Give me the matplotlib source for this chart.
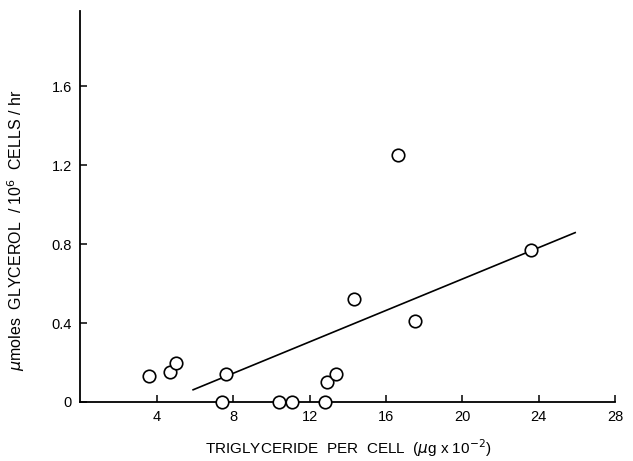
import numpy as np
import matplotlib.pyplot as plt

# triglyceride content (ug x 10^-2) vs glycerol release (umol / 10^6 cells / hr)
trig = [3.6, 4.7, 5.0, 7.6, 7.4, 10.4, 11.1, 12.8, 12.9, 13.4, 14.3, 16.6, 17.5, 23.6]
glycerol = [0.13, 0.15, 0.20, 0.14, 0.0, 0.0, 0.0, 0.0, 0.10, 0.14, 0.52, 1.25, 0.41, 0.77]

# fitted regression line
fit_slope = 0.0398
fit_intercept = -0.173
fit_range = [5.9, 25.9]

x_ticks = [4, 8, 12, 16, 20, 24, 28]
y_ticks = [0, 0.4, 0.8, 1.2, 1.6]
y_ticklabels = ["0", "0.4", "0.8", "1.2", "1.6"]

plt.rcParams["font.family"] = ["Liberation Sans", "DejaVu Sans"]

fig = plt.figure(figsize=(6.33, 4.61), dpi=100)
ax = fig.add_axes([0.127, 0.128, 0.845, 0.848])

line_x = np.array(fit_range)
ax.plot(line_x, fit_slope * line_x + fit_intercept, color="black", lw=1.2, zorder=2)

ax.plot(trig, glycerol, "o", ms=9, mfc="white", mec="black", mew=1.2,
        clip_on=False, zorder=4)

ax.set_xlim(0, 28)
ax.set_ylim(0, 1.98)
ax.spines["top"].set_visible(False)
ax.spines["right"].set_visible(False)
for s in ("left", "bottom"):
    ax.spines[s].set_linewidth(1.3)

ax.set_xticks(x_ticks)
ax.set_yticks(y_ticks)
ax.set_yticklabels(y_ticklabels)
ax.tick_params(direction="in", length=5, width=1.1, labelsize=10.5, pad=6)

ax.set_xlabel(r"TRIGLYCERIDE  PER  CELL  ($\mu$g x 10$^{-2}$)", fontsize=11, labelpad=9)
ax.set_ylabel(r"$\mu$moles  GLYCEROL  / 10$^{6}$  CELLS / hr", fontsize=11.5)
ax.yaxis.set_label_coords(-0.099, 0.44)

fig.savefig("out.png", dpi=100)
